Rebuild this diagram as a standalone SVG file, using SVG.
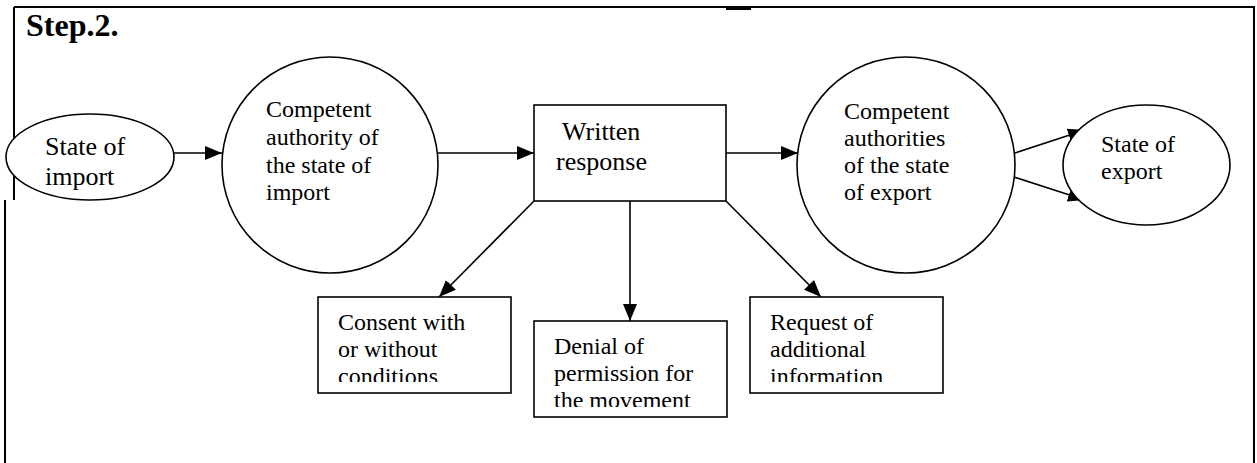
<svg xmlns="http://www.w3.org/2000/svg" width="1257" height="463" viewBox="0 0 1257 463">
<style>
.t{font-family:"Liberation Serif","Times New Roman",serif;font-size:24px;fill:#000}
.big{font-size:26px}
.s{fill:#fff;stroke:#000;stroke-width:1.6}
.c{stroke:#000;stroke-width:1.6;fill:none}
.f{stroke:#000;stroke-width:2;fill:none}
</style>
<defs>
<marker id="ah" markerWidth="17" markerHeight="14" refX="17" refY="7" orient="auto" markerUnits="userSpaceOnUse">
<path d="M0,0 L17,7 L0,14 Z" fill="#000"/>
</marker>
<clipPath id="clA"><rect x="318" y="297" width="193" height="85"/></clipPath>
<clipPath id="clB"><rect x="534" y="321" width="193" height="86"/></clipPath>
<clipPath id="clC"><rect x="750" y="297" width="193" height="85"/></clipPath>
</defs>
<rect width="1257" height="463" fill="#fff"/>
<g id="frame">
<path class="f" d="M14,7 H1254 V463"/>
<path class="f" d="M14,7 V200"/>
<path class="f" d="M5,200 V463"/>
<rect x="726" y="6" width="25" height="4" fill="#000"/>
<text class="t" x="26" y="36" style="font-size:32px;font-weight:bold">Step.2.</text>
</g>
<g id="connectors">
<line class="c" x1="174" y1="153" x2="222" y2="153" marker-end="url(#ah)"/>
<line class="c" x1="438" y1="153" x2="534" y2="153" marker-end="url(#ah)"/>
<line class="c" x1="726" y1="153" x2="798" y2="153" marker-end="url(#ah)"/>
<line class="c" x1="1015" y1="153" x2="1085" y2="130" marker-end="url(#ah)"/>
<line class="c" x1="1014" y1="177" x2="1085" y2="200" marker-end="url(#ah)"/>
<line class="c" x1="534" y1="201" x2="439" y2="297" marker-end="url(#ah)"/>
<line class="c" x1="630" y1="201" x2="630" y2="321" marker-end="url(#ah)"/>
<line class="c" x1="726" y1="201" x2="821" y2="297" marker-end="url(#ah)"/>
</g>
<g id="state-import">
<ellipse class="s" cx="90" cy="157" rx="84" ry="43"/>
<text class="t big" x="45" y="155">State of</text>
<text class="t big" x="45" y="185">import</text>
</g>
<g id="ca-import">
<circle class="s" cx="330" cy="165" r="108"/>
<text class="t" x="266" y="117">Competent</text>
<text class="t" x="266" y="145">authority of</text>
<text class="t" x="266" y="173">the state of</text>
<text class="t" x="266" y="200">import</text>
</g>
<g id="written-response">
<rect class="s" x="534" y="105" width="192" height="96"/>
<text class="t big" x="562" y="140">Written</text>
<text class="t big" x="556" y="170">response</text>
</g>
<g id="ca-export">
<ellipse class="s" cx="906" cy="165" rx="109" ry="108"/>
<text class="t" x="844" y="119">Competent</text>
<text class="t" x="844" y="146">authorities</text>
<text class="t" x="844" y="173">of the state</text>
<text class="t" x="844" y="200">of export</text>
</g>
<g id="state-export">
<ellipse class="s" cx="1146.5" cy="165" rx="83.5" ry="60"/>
<text class="t" x="1101" y="152">State of</text>
<text class="t" x="1101" y="179">export</text>
</g>
<g id="consent">
<rect class="s" x="318" y="297" width="193" height="96"/>
<g clip-path="url(#clA)">
<text class="t" x="338" y="330">Consent with</text>
<text class="t" x="338" y="357">or without</text>
<text class="t" x="338" y="384">conditions</text>
</g>
</g>
<g id="denial">
<rect class="s" x="534" y="321" width="193" height="96"/>
<g clip-path="url(#clB)">
<text class="t" x="554" y="354">Denial of</text>
<text class="t" x="554" y="381">permission for</text>
<text class="t" x="554" y="408">the movement</text>
</g>
</g>
<g id="request">
<rect class="s" x="750" y="297" width="193" height="96"/>
<g clip-path="url(#clC)">
<text class="t" x="770" y="330">Request of</text>
<text class="t" x="770" y="357">additional</text>
<text class="t" x="770" y="384">information</text>
</g>
</g>
</svg>
